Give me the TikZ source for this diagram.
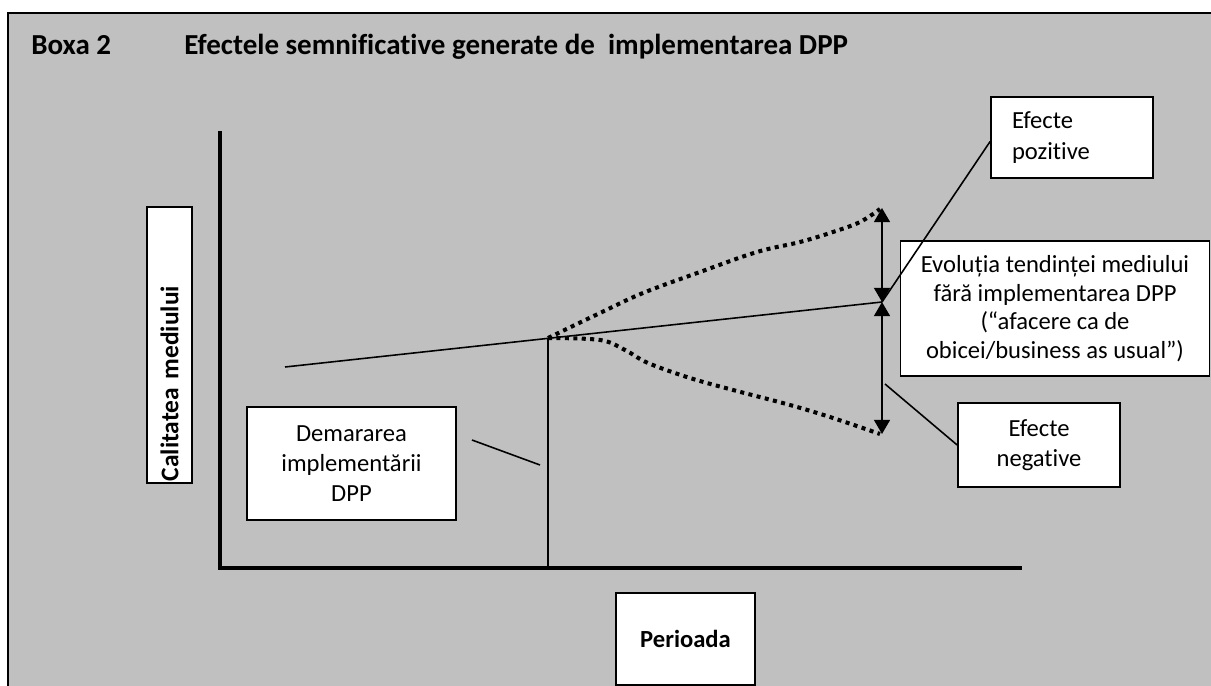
\documentclass[tikz,border=0pt]{standalone}
\usepackage{fontspec}
\setmainfont{Carlito}[Ligatures={NoCommon}]
\usepackage{tikz}
\usetikzlibrary{arrows.meta}
\definecolor{boxgray}{HTML}{C0C0C0}
\tikzset{label box/.style={draw, line width=1pt, fill=white, inner sep=0pt,
    font=\fontsize{14}{17.2}\selectfont}}
\tikzset{axis line/.style={line width=2.3pt}}
\tikzset{thin edge/.style={line width=0.9pt}}
\tikzset{scenario curve/.style={line width=2.3pt, dash pattern=on 2.3pt off 2.5pt}}
\tikzset{effect arrow/.style={line width=1.1pt,
    {Triangle[width=9pt,length=8pt]}-{Triangle[width=9pt,length=8pt]}}}
\tikzset{title text/.style={font=\bfseries\fontsize{16.5}{19}\selectfont, anchor=base west, inner sep=0pt}}

\begin{document}
\begin{tikzpicture}[x=0.02cm, y=-0.02cm]
  \useasboundingbox (0,0) rectangle (1211,686);
  \fill [boxgray] (8,13) rectangle (1211,686);
  \draw [line width=1.3pt] (8,686) -- (8,13) -- (1211,13);

  \node [title text] (boxa)  at ( 31,55) {Boxa 2};
  \node [title text] (title) at (184,55) {Efectele semnificative generate de\ \ implementarea DPP};

  % axes
  \coordinate (ytop)   at ( 220,131);
  \coordinate (origin) at ( 220,568);
  \coordinate (xend)   at (1022,568);
  \draw [axis line] (ytop) -- (origin) -- (xend);

  \coordinate (trend start) at (285,367);
  \coordinate (start)       at (548,338);
  \coordinate (trend end)   at (882,302);
  \coordinate (start foot)  at (548,568);
  \coordinate (upper end)   at (882,208);
  \coordinate (lower end)   at (882,434);

  \draw [thin edge] (trend start) -- (trend end);
  \draw [thin edge] (start) -- (start foot);

  % scenarios with DPP
  \draw [scenario curve] plot [smooth, tension=0.6] coordinates
    {(start) (600,313) (643,293) (700,272) (757,252) (800,242) (833,232) (860,222) (880,209)};
  \draw [scenario curve] plot [smooth, tension=0.6] coordinates
    {(start) (600,340) (625,350) (648,363) (690,378) (733,390) (790,405) (833,418) (880,434)};

  \draw [effect arrow] (upper end) -- (trend end);
  \draw [effect arrow] (trend end) -- (lower end);

  % labels
  \node [label box, font=\bfseries\fontsize{14.5}{16}\selectfont, rotate=90,
         minimum width=5.52cm, minimum height=0.9cm, text width=5.45cm, align=left]
        (cal)  at ( 169.5,345)   {Calitatea mediului};
  \node [label box, minimum width=4.18cm, minimum height=2.26cm, align=center]
        (dem)  at ( 351.5,463.5) {Demararea\\implementării\\DPP};
  \node [label box, minimum width=3.24cm, minimum height=1.62cm,
         inner xsep=0.42cm, text width=2.4cm, align=left]
        (poz)  at (1072,137.5)   {Efecte\\pozitive};
  \node [label box, minimum width=6.18cm, minimum height=2.7cm, align=center,
         font=\fontsize{14}{16.3}\selectfont]
        (evol) at (1055,308.5)   {Evoluția tendinței mediului\\fără implementarea DPP\\(“afacere ca de\\obicei/business as usual”)};
  \node [label box, minimum width=3.24cm, minimum height=1.68cm, align=center]
        (neg)  at (1039,445)     {Efecte\\negative};
  \node [label box, font=\bfseries\fontsize{14}{16}\selectfont,
         minimum width=2.78cm, minimum height=1.84cm]
        (per)  at ( 685.5,639)   {Perioada};

  % pointers
  \coordinate (dem pointer) at (472,440);
  \coordinate (dem tick)    at (540,465);
  \coordinate (neg pointer) at (885,384);
  \draw [thin edge] (dem pointer) -- (dem tick);
  \draw [thin edge] ([yshift=-0.08cm]poz.west) -- (trend end);
  \draw [thin edge] (neg pointer) -- (neg.west);
\end{tikzpicture}
\end{document}
